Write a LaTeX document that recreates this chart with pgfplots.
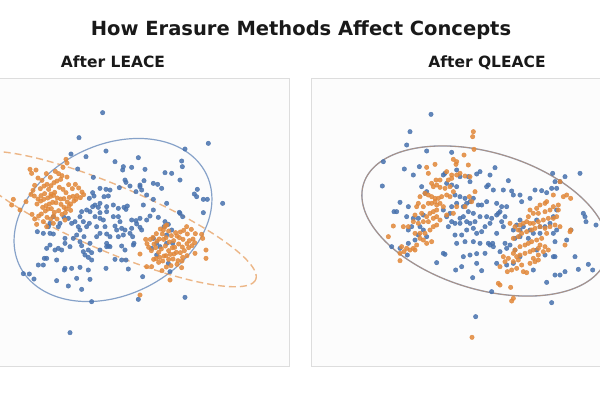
\documentclass[border=0pt]{standalone}
\usepackage{pgfplots}
\pgfplotsset{compat=1.18}
\usepackage{fontspec}
\setmainfont{DejaVu Sans}

\definecolor{cblue}{RGB}{72,114,174}
\definecolor{corange}{RGB}{226,136,58}
\definecolor{panelbg}{RGB}{252,252,252}
\definecolor{panelframe}{RGB}{221,221,221}

% concept A (blue) and concept B (orange) after LEACE
\pgfplotstableread{
x y
308 128
237 203
625 220
555 237
213 252
258 260
318 243
415 263
545 273
547 290
345 275
233 297
370 290
395 292
368 300
435 298
495 308
515 310
280 322
375 330
378 337
420 345
432 332
460 340
473 343
540 330
592 358
583 372
590 380
610 388
622 388
668 400
610 428
538 427
300 355
318 358
330 360
312 380
325 378
278 368
282 378
268 385
358 353
390 348
408 365
420 350
425 360
460 388
440 375
500 400
485 355
430 405
460 420
475 442
495 455
505 463
450 438
420 445
408 452
395 450
410 462
420 472
382 408
372 412
378 418
355 415
340 405
320 410
300 400
295 412
285 405
278 410
300 428
320 425
270 425
260 420
245 425
240 440
225 455
215 460
205 445
192 442
180 460
160 440
150 460
145 470
130 490
112 485
150 490
160 492
175 470
195 505
240 480
235 470
230 495
252 500
260 470
268 460
285 440
300 445
310 450
340 440
355 440
360 455
345 468
365 475
375 480
390 490
398 500
402 520
400 525
375 540
365 528
355 500
330 500
320 492
300 490
290 500
270 520
265 540
250 545
245 527
240 515
220 505
210 530
195 520
185 540
175 535
165 540
150 525
140 535
133 565
130 585
115 585
140 565
170 570
195 595
193 600
215 595
240 592
265 600
275 570
265 562
255 555
275 548
300 540
320 530
325 528
330 530
345 568
365 570
378 570
318 595
385 597
428 620
270 628
245 658
230 625
205 648
170 632
102 627
88 612
70 611
275 695
415 688
555 682
210 788
460 505
470 520
480 530
500 520
518 520
540 430
548 440
492 470
515 480
500 495
455 535
470 555
505 580
510 605
425 480
440 450
315 470
290 470
250 455
320 520
370 495
395 475
350 480
}\leaceA

\pgfplotstableread{
x y
90 298
108 300
95 310
198 268
201 279
189 292
166 304
176 311
186 317
151 322
139 311
126 331
114 324
104 346
99 361
121 356
132 348
141 343
153 347
162 338
171 333
182 328
201 321
206 344
217 356
226 343
236 354
246 366
251 374
231 377
219 379
208 382
198 368
189 358
178 352
164 367
153 372
146 358
134 371
123 377
114 387
103 378
93 373
111 402
122 393
131 388
143 384
152 379
161 376
172 384
182 387
192 386
202 396
212 402
222 393
228 388
241 383
158 397
148 402
138 407
128 412
168 398
183 403
192 412
199 417
212 421
176 422
163 427
154 416
144 417
136 423
124 432
116 438
141 442
152 447
161 438
171 447
186 433
196 428
207 408
96 433
104 447
40 388
35 405
78 395
60 420
130 455
110 463
195 450
160 460
140 470
495 470
481 477
469 491
459 502
487 492
506 483
514 497
527 488
541 486
551 481
562 492
574 478
586 491
579 507
568 512
561 521
549 508
538 503
531 498
521 512
508 516
498 503
491 508
478 507
471 513
462 522
451 508
441 521
437 508
446 532
454 542
467 533
476 547
484 537
496 528
506 542
517 533
524 532
536 522
547 531
553 542
566 533
576 527
584 518
561 557
548 562
541 548
529 547
522 552
511 553
498 557
492 558
479 562
468 566
461 568
476 577
488 573
506 568
519 567
534 572
546 573
531 583
513 587
499 591
486 602
510 630
420 552
440 590
455 590
618 540
618 565
608 505
605 493
585 550
545 593
420 675
560 470
500 465
490 480
}\leaceB

% concept A (blue) and concept B (orange) after QLEACE
\pgfplotstableread{
x y
393 133
330 185
320 225
250 275
247 348
380 243
455 247
313 297
340 315
358 290
365 350
375 370
380 365
300 397
282 425
290 425
325 410
320 440
340 445
355 445
370 435
360 470
335 470
325 480
370 480
380 500
355 495
345 510
325 520
300 535
275 530
322 555
410 578
430 550
435 553
467 600
485 590
490 560
510 555
530 580
545 602
518 623
530 551
555 550
565 520
570 525
578 520
580 530
600 545
590 580
620 585
640 580
540 520
520 515
495 515
470 520
465 495
485 495
500 480
520 475
530 490
545 485
555 470
570 460
575 445
590 435
600 425
615 440
620 410
605 410
590 400
560 395
545 405
535 405
540 440
525 455
510 460
500 455
490 440
480 445
465 460
455 455
450 430
430 420
440 440
455 410
470 400
490 410
500 400
510 395
520 385
495 385
480 380
465 375
470 350
455 345
440 340
430 315
435 310
470 300
480 320
505 320
510 335
540 305
530 312
560 350
565 345
585 293
570 315
580 360
610 360
625 332
635 363
640 375
660 375
665 395
660 450
650 465
640 480
660 480
670 470
690 480
700 490
720 470
735 470
750 460
770 420
760 440
755 355
765 335
770 355
780 335
795 320
758 310
840 310
690 385
705 360
725 362
740 368
710 450
710 540
735 555
760 560
765 515
765 560
770 480
760 490
800 510
850 430
855 440
858 455
888 465
813 480
825 560
835 598
865 583
878 600
795 605
780 615
765 615
740 637
700 600
660 560
645 540
630 525
615 520
610 470
605 455
595 430
575 665
755 698
527 740
720 490
685 505
660 500
645 505
620 535
590 490
560 440
520 430
505 425
480 460
445 470
}\qleaceA

\pgfplotstableread{
x y
520 185
518 200
522 238
460 268
470 275
468 283
492 255
505 285
380 292
405 283
385 310
440 305
455 315
470 315
480 310
495 318
510 320
455 325
445 330
420 330
408 330
395 340
400 350
410 345
420 352
435 355
450 350
460 365
450 380
440 375
425 380
415 385
405 385
395 380
385 375
375 370
360 380
355 400
350 410
370 410
385 400
395 400
405 395
410 405
420 400
430 410
410 420
400 425
390 430
380 440
365 430
345 435
340 455
355 460
370 455
385 455
400 445
410 440
420 450
410 465
400 470
390 480
375 490
360 490
345 490
360 505
370 510
380 520
395 515
350 525
340 535
345 540
330 540
320 535
305 530
300 572
265 500
280 468
310 470
325 470
440 435
460 430
470 410
495 410
515 395
525 365
508 380
300 550
312 545
780 335
760 375
740 395
735 400
720 405
710 415
690 420
700 430
715 430
735 425
750 420
760 410
775 405
775 420
770 440
760 445
745 445
730 450
715 455
700 460
690 460
680 455
670 460
660 465
655 480
665 490
680 485
695 480
705 475
720 470
735 475
750 470
765 465
780 470
810 485
812 480
795 525
740 490
725 505
710 510
695 515
685 520
675 525
660 530
645 540
640 550
650 560
660 555
675 550
690 545
700 540
715 535
720 525
735 530
700 565
705 575
715 570
690 580
665 585
655 570
640 575
625 565
615 575
650 595
635 600
622 605
600 590
610 560
595 640
600 645
632 652
640 685
635 693
670 605
680 608
640 505
655 500
715 555
730 545
745 540
800 375
790 380
812 385
630 460
645 470
685 440
516 802
}\qleaceB

\pgfplotsset{
  panel/.style={
    scale only axis, width=352pt, height=288pt,
    y dir=reverse, ymin=24, ymax=888,
    xtick=\empty, ytick=\empty,
    axis line style={draw=panelframe, line width=0.8pt},
    axis background/.style={fill=panelbg},
    title style={font=\bfseries\fontsize{15.5}{18}\selectfont, color=black!90,
                 at={(0.5,1)}, anchor=base, yshift=4.5pt},
  },
  ptsA/.style={only marks, mark=*, mark size=2.25pt, color=cblue, opacity=0.85},
  ptsB/.style={only marks, mark=*, mark size=2.25pt, color=corange, opacity=0.85},
}

\begin{document}
\begin{tikzpicture}
\useasboundingbox (0pt,0pt) rectangle (600pt,-400pt);
\clip (0pt,0pt) rectangle (600pt,-400pt);

\begin{axis}[panel, at={(-63pt,-366pt)}, anchor=south west,
  xmin=-189, xmax=867, title={After LEACE}]
  \addplot[ptsA] table {\leaceA};
  \addplot[ptsB] table {\leaceB};
  % covariance ellipse of concept A
  \addplot[cblue, draw opacity=0.65, line width=1.2pt, domain=0:360, samples=181]
    ({339 + 312*cos(x)*cos(26.4) + 225*sin(x)*sin(26.4)},
     {450 - 312*cos(x)*sin(26.4) + 225*sin(x)*cos(26.4)});
  % covariance ellipse of concept B
  \addplot[corange, draw opacity=0.6, line width=1.4pt, dash pattern=on 7pt off 4pt,
    domain=0:360, samples=181]
    ({339 + 465*cos(x)*cos(23) - 99*sin(x)*sin(23)},
     {447 + 465*cos(x)*sin(23) + 99*sin(x)*cos(23)});
\end{axis}

\begin{axis}[panel, at={(311pt,-366pt)}, anchor=south west,
  xmin=33, xmax=1089, title={After QLEACE}]
  \addplot[ptsA] table {\qleaceA};
  \addplot[ptsB] table {\qleaceB};
  % both concepts share the same covariance after QLEACE
  \addplot[cblue, draw opacity=0.7, line width=1.3pt, domain=0:360, samples=181]
    ({555 + 381*cos(x)*cos(16.9) - 205*sin(x)*sin(16.9)},
     {453 + 381*cos(x)*sin(16.9) + 205*sin(x)*cos(16.9)});
  \addplot[corange, draw opacity=0.45, line width=1.0pt, domain=0:360, samples=181]
    ({555 + 381*cos(x)*cos(16.9) - 205*sin(x)*sin(16.9)},
     {453 + 381*cos(x)*sin(16.9) + 205*sin(x)*cos(16.9)});
\end{axis}

\node[anchor=base, font=\bfseries\fontsize{19.5}{23}\selectfont, color=black!90]
  at (301pt,-35pt) {How Erasure Methods Affect Concepts};
\end{tikzpicture}
\end{document}
